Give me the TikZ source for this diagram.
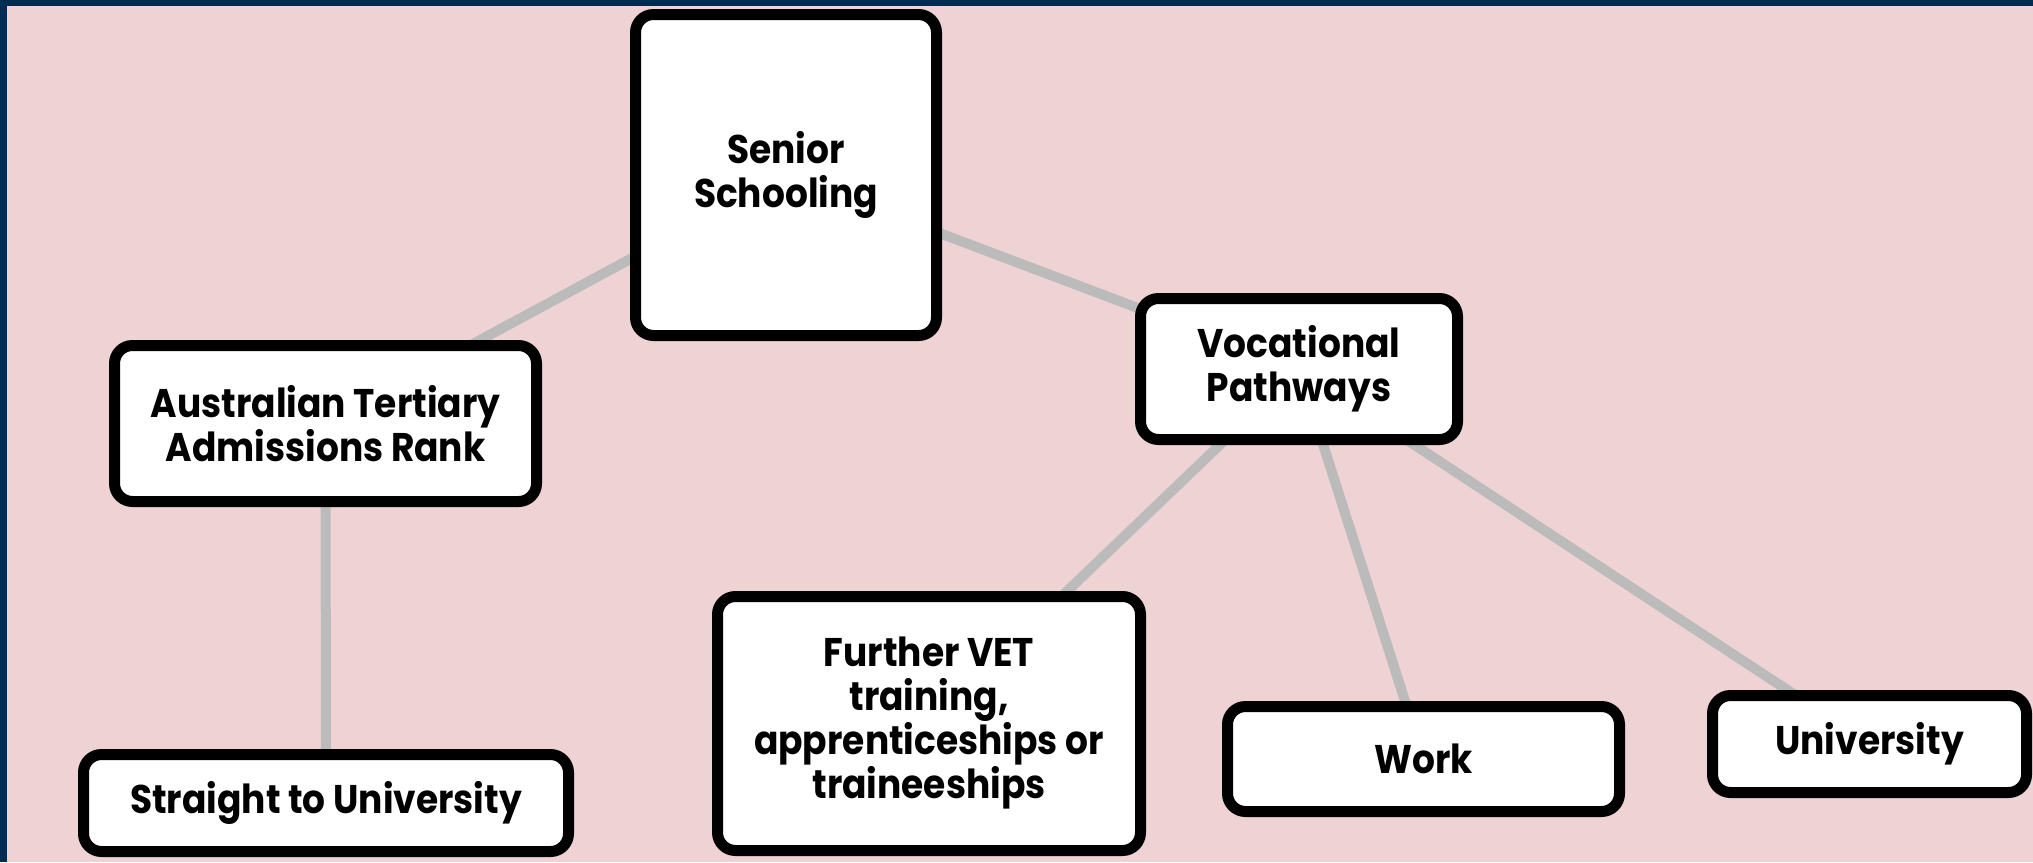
\documentclass[tikz,border=0pt]{standalone}
\usepackage{fontspec}
\newfontfamily\boxfont{Poppins}[FakeStretch=0.9]
\usetikzlibrary{backgrounds}
\definecolor{bgpink}{RGB}{239,210,212}
\definecolor{frameblue}{RGB}{0,44,84}
\definecolor{linkgray}{RGB}{187,187,187}
\tikzset{
  card/.style={draw=black, line width=5.5pt, fill=white, rounded corners=9pt,
    inner sep=0pt, align=center, font=\boxfont\bfseries\fontsize{20}{22}\selectfont},
  link/.style={draw=linkgray, line width=5pt}
}
\begin{document}
\begin{tikzpicture}[x=0.5pt,y=-0.5pt]
\useasboundingbox (0,0) rectangle (2033,862);
\node[card, minimum width=150.5pt, minimum height=160.5pt] (senior) at (786,175) {Senior\\Schooling};
\node[card, minimum width=211pt, minimum height=78pt] (atar) at (325.5,423.5) {Australian Tertiary\\Admissions Rank};
\node[card, minimum width=158.5pt, minimum height=70.5pt] (voc) at (1299,369) {Vocational\\Pathways};
\node[card, minimum width=242.5pt, minimum height=48.5pt] (straight) at (326,803) {Straight to University};
\node[card, minimum width=211.5pt, minimum height=127pt] (vet) at (929,723.5) {Further VET\\training,\\apprenticeships or\\traineeships};
\node[card, minimum width=196pt, minimum height=52.5pt] (work) at (1423.5,759) {Work};
\node[card, minimum width=157pt, minimum height=48.5pt] (uni) at (1869.5,744) {University};
\begin{scope}[on background layer]
  \fill[bgpink] (0,0) rectangle (2033,862);
  \fill[frameblue] (0,0) rectangle (2033,6);
  \fill[frameblue] (0,0) rectangle (7,862);
  \draw[link] (senior.center) -- (atar.center);
  \draw[link] (senior.center) -- (voc.center);
  \draw[link] (atar.center) -- (straight.center);
  \draw[link] (voc.center) -- (vet.center);
  \draw[link] (voc.center) -- (work.center);
  \draw[link] (voc.center) -- (uni.center);
\end{scope}
\end{tikzpicture}
\end{document}
